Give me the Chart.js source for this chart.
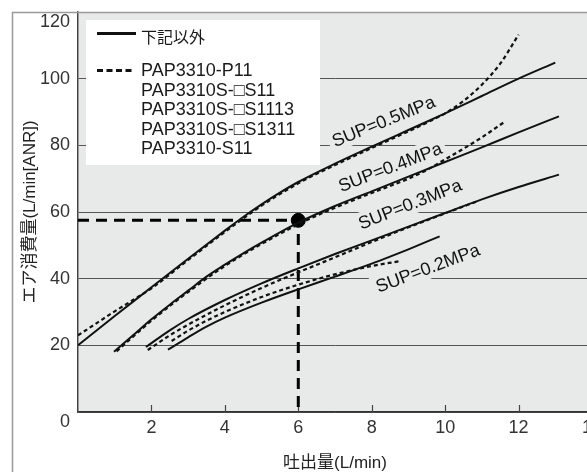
<!DOCTYPE html>
<html>
<head>
<meta charset="utf-8">
<script src="https://cdn.jsdelivr.net/npm/chart.js@4.4.1/dist/chart.umd.min.js"></script>
<style>
html, body { margin: 0; padding: 0; background: #fff; overflow: hidden; }
#wrap { width: 587px; height: 472px; overflow: hidden; }
canvas { display: block; }
</style>
</head>
<body>
<div id="wrap"><canvas id="consumo" width="600" height="472"></canvas></div>
<script>
// curves: x = 吐出量 (L/min), y = エア消費量 (L/min[ANR])
const sup05SolidX = [0, 1, 2, 3, 4, 4.5, 5, 5.5, 6, 7, 8, 9, 10, 11, 12, 13];
const sup05SolidY = [20, 28.8, 37.4, 46, 54.4, 58.5, 62.3, 65.8, 69, 74.5, 79.6, 84.6, 89.6, 94.8, 100, 104.8];
const sup05DashX = [0, 0.5, 1, 1.5, 2, 3, 4, 5, 6, 7, 8, 9, 9.5, 10, 10.5, 11, 11.5, 12];
const sup05DashY = [23, 26.6, 30.2, 33.6, 37.1, 45.6, 54, 61.9, 68.6, 74.1, 79.2, 84.2, 86.8, 89.6, 93.3, 98.2, 104.5, 113.2];

const sup04SolidX = [0.98, 1.5, 2, 2.5, 3, 3.5, 4, 4.5, 5, 6, 7, 8, 9, 10, 11, 12, 13.1];
const sup04SolidY = [18.1, 23, 27.8, 32.2, 36.4, 40.6, 44.2, 47.6, 50.8, 56.8, 61.8, 66.2, 70.6, 75, 79.4, 83.9, 88.7];
const sup04DashX = [1.05, 1.5, 2, 3, 4, 5, 6, 7, 8, 9, 9.5, 10, 10.5, 11, 11.6];
const sup04DashY = [18.2, 22.6, 27.4, 36, 43.8, 50.4, 56.3, 61.3, 65.7, 70, 72.6, 75.8, 79, 82.4, 86.9];

const sup03SolidX = [1.85, 2.5, 3, 4, 5, 6, 7, 8, 9, 10, 11, 12, 13.1];
const sup03SolidY = [19.5, 24.5, 27.9, 33.6, 38.6, 43.1, 47.4, 51.5, 55.6, 59.7, 63.8, 67.5, 71.2];
const sup03DashX = [1.9, 2.5, 3, 4, 5, 6, 7, 8, 9, 10, 10.9];
const sup03DashY = [18.6, 23, 26.2, 32, 37.2, 41.9, 46.4, 51, 55.4, 59.6, 63.3];

const sup02SolidX = [2.45, 3, 3.5, 4, 5, 6, 7, 8, 8.5, 9, 9.85];
const sup02SolidY = [18.7, 22.4, 25.6, 28.3, 32.8, 36.8, 40.6, 44.5, 46.6, 48.8, 52.7];
const sup02DashX = [2.55, 3, 3.5, 4, 5, 6, 7, 8, 8.8];
const sup02DashY = [21.3, 24.4, 27.4, 30, 34.5, 38.2, 41.3, 43.8, 45.3];

// reading example: 6 L/min -> 57.5 L/min
const exampleX = [0, 6, 6];
const exampleY = [57.5, 57.5, 0];

const supLabels = ['SUP=0.5MPa', 'SUP=0.4MPa', 'SUP=0.3MPa', 'SUP=0.2MPa'];
const legendSolidText = '下記以外';
const legendDashText = ['PAP3310-P11', 'PAP3310S-□S11', 'PAP3310S-□S1113', 'PAP3310S-□S1311', 'PAP3310-S11'];

const FONT = '"Liberation Sans", Arial, "DejaVu Sans", "Noto Sans CJK JP", sans-serif';
const PLOT_BG = '#e8e9e9';
Chart.defaults.font.family = FONT;

// where the pressure labels sit (data units) and their slant
const labelSpots = [
    { x: 8.38, y: 85.6, a: -22 },
    { x: 8.56, y: 71.8, a: -21 },
    { x: 9.10, y: 60.7, a: -21.5 },
    { x: 9.58, y: 41.5, a: -20.5 }
];

function pts(xs, ys) {
    return xs.map((v, i) => ({ x: v, y: ys[i] }));
}

const solid = {
    borderColor: '#111',
    borderWidth: 2,
    pointRadius: 0,
    fill: false,
    cubicInterpolationMode: 'monotone'
};
const dashed = Object.assign({}, solid, { borderDash: [4, 3], borderWidth: 2.2 });

const decor = {
    id: 'decor',
    beforeDraw(chart) {
        const { ctx, chartArea: a } = chart;
        ctx.save();
        ctx.fillStyle = PLOT_BG;
        ctx.fillRect(a.left, a.top, a.right - a.left, a.bottom - a.top);
        ctx.restore();
    },
    beforeDatasetsDraw(chart) {
        const { ctx, chartArea: a } = chart;
        const xs = chart.scales.x, ys = chart.scales.y;
        ctx.save();
        // label patches break the gridlines
        ctx.font = '18px ' + FONT;
        ctx.fillStyle = PLOT_BG;
        supLabels.forEach((t, i) => {
            const w = ctx.measureText(t).width;
            ctx.save();
            ctx.translate(xs.getPixelForValue(labelSpots[i].x), ys.getPixelForValue(labelSpots[i].y));
            ctx.rotate(labelSpots[i].a * Math.PI / 180);
            ctx.fillRect(-w / 2 - 4, -17, w + 8, 22);
            ctx.restore();
        });
        // short tick marks inside the x axis
        ctx.strokeStyle = '#444';
        ctx.lineWidth = 1.2;
        xs.ticks.forEach(t => {
            if (t.value === 0) return;
            const px = Math.round(xs.getPixelForValue(t.value)) + 0.5;
            ctx.beginPath();
            ctx.moveTo(px, a.bottom);
            ctx.lineTo(px, a.bottom - 7);
            ctx.stroke();
        });
        ctx.restore();
    },
    afterDraw(chart) {
        const { ctx, chartArea: a } = chart;
        const xs = chart.scales.x, ys = chart.scales.y;
        ctx.save();

        // pressure labels
        ctx.font = '18px ' + FONT;
        ctx.fillStyle = '#111';
        ctx.textAlign = 'center';
        ctx.textBaseline = 'alphabetic';
        supLabels.forEach((t, i) => {
            ctx.save();
            ctx.translate(xs.getPixelForValue(labelSpots[i].x), ys.getPixelForValue(labelSpots[i].y));
            ctx.rotate(labelSpots[i].a * Math.PI / 180);
            ctx.fillText(t, 0, 0);
            ctx.restore();
        });

        // end labels of the y axis sit inside the frame
        ctx.fillStyle = '#333';
        ctx.textAlign = 'right';
        ctx.textBaseline = 'middle';
        ctx.fillText('120', a.left - 8, a.top + 10.5);
        ctx.fillText('0', a.left - 8, a.bottom + 10.5);

        // legend box
        ctx.fillStyle = '#fff';
        ctx.fillRect(86, 20, 234, 145);
        ctx.strokeStyle = '#111';
        ctx.lineWidth = 3;
        ctx.beginPath();
        ctx.moveTo(97, 33.5);
        ctx.lineTo(136, 33.5);
        ctx.stroke();
        ctx.setLineDash([6, 3.5]);
        ctx.beginPath();
        ctx.moveTo(97, 70.5);
        ctx.lineTo(134, 70.5);
        ctx.stroke();
        ctx.setLineDash([]);
        ctx.fillStyle = '#1a1a1a';
        ctx.textAlign = 'left';
        ctx.font = '16px ' + FONT;
        ctx.fillText(legendSolidText, 141, 39);
        ctx.font = '18px ' + FONT;
        legendDashText.forEach((t, i) => {
            ctx.fillText(t, 141, 71.5 + i * 19.4);
        });

        // outer frame
        ctx.strokeStyle = '#9a9a9a';
        ctx.lineWidth = 1.5;
        ctx.beginPath();
        ctx.moveTo(12.5, chart.height);
        ctx.lineTo(12.5, 12.5);
        ctx.lineTo(chart.width, 12.5);
        ctx.stroke();
        ctx.restore();
    }
};

const ctx = document.getElementById('consumo').getContext('2d');
const consumoChart = new Chart(ctx, {
    type: 'line',
    data: {
        datasets: [
            Object.assign({ label: '0.5 下記以外', data: pts(sup05SolidX, sup05SolidY) }, solid),
            Object.assign({ label: '0.5 PAP3310', data: pts(sup05DashX, sup05DashY) }, dashed),
            Object.assign({ label: '0.4 下記以外', data: pts(sup04SolidX, sup04SolidY) }, solid),
            Object.assign({ label: '0.4 PAP3310', data: pts(sup04DashX, sup04DashY) }, dashed),
            Object.assign({ label: '0.3 下記以外', data: pts(sup03SolidX, sup03SolidY) }, solid),
            Object.assign({ label: '0.3 PAP3310', data: pts(sup03DashX, sup03DashY) }, dashed),
            Object.assign({ label: '0.2 下記以外', data: pts(sup02SolidX, sup02SolidY) }, solid),
            Object.assign({ label: '0.2 PAP3310', data: pts(sup02DashX, sup02DashY) }, dashed),
            {
                label: 'example',
                data: pts(exampleX, exampleY),
                borderColor: '#000',
                borderWidth: 3,
                borderDash: [11, 7],
                pointRadius: 0,
                tension: 0,
                fill: false
            },
            {
                label: 'point',
                data: pts([exampleX[1]], [exampleY[1]]),
                showLine: false,
                pointRadius: 7,
                pointBackgroundColor: '#000',
                pointBorderColor: '#000'
            }
        ]
    },
    options: {
        responsive: false,
        animation: false,
        layout: { padding: { top: 12, right: 7, bottom: 0, left: 0 } },
        plugins: {
            legend: { display: false },
            tooltip: { enabled: false }
        },
        scales: {
            x: {
                type: 'linear',
                min: 0,
                max: 14,
                afterFit: s => { s.height = 60; s.paddingLeft = 0; s.paddingRight = 0; },
                ticks: {
                    stepSize: 2,
                    padding: 5,
                    autoSkip: false,
                    maxRotation: 0,
                    color: '#333',
                    font: { size: 18 },
                    callback: v => v === 0 ? '' : v
                },
                grid: { drawOnChartArea: false, drawTicks: false },
                border: { color: '#333', width: 1.5 },
                title: {
                    display: true,
                    text: '吐出量(L/min)',
                    color: '#222',
                    font: { size: 17, lineHeight: 1 },
                    padding: 0
                }
            },
            y: {
                min: 0,
                max: 120,
                afterFit: s => { s.width = 78; s.paddingTop = 0; s.paddingBottom = 0; },
                ticks: {
                    stepSize: 20,
                    padding: 8,
                    color: '#333',
                    font: { size: 18 },
                    callback: v => (v === 0 || v === 120) ? '' : v
                },
                grid: { color: '#555', lineWidth: 1, drawTicks: false },
                border: { color: '#444', width: 1.5 },
                title: {
                    display: true,
                    text: 'エア消費量(L/min[ANR])',
                    color: '#222',
                    font: { size: 17, lineHeight: 1 },
                    padding: { top: 21.5, bottom: 0 }
                }
            }
        }
    },
    plugins: [decor]
});
</script>
</body>
</html>
